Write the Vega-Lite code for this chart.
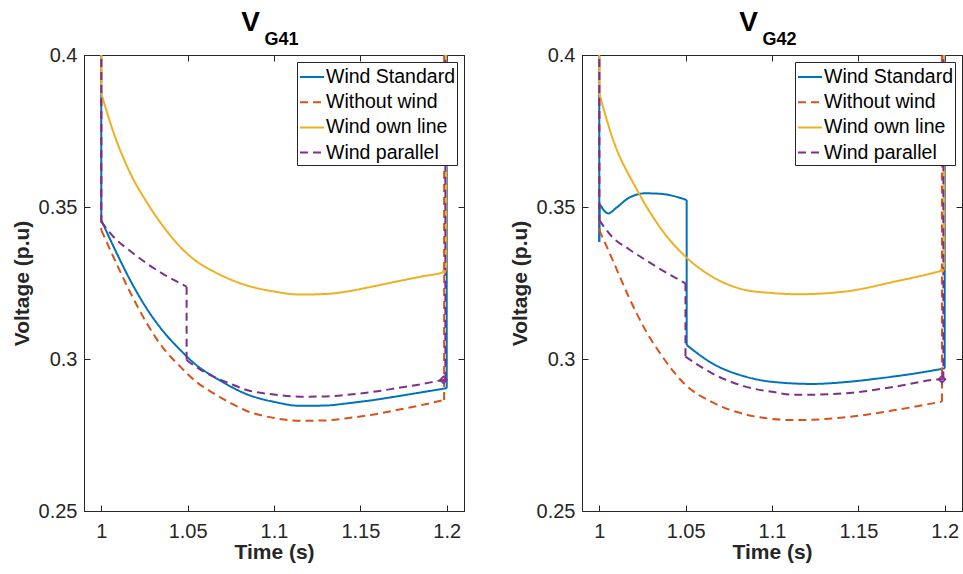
{
  "$schema": "https://vega.github.io/schema/vega-lite/v6.json",
  "padding": {"left": 10, "top": 8, "right": 0, "bottom": 0},
  "background": "white",
  "bounds": "flush",
  "spacing": 118,
  "resolve": {
    "scale": {"color": "independent", "strokeDash": "independent"},
    "legend": {"color": "independent", "strokeDash": "independent"}
  },
  "config": {
    "font": "Liberation Sans",
    "view": {"stroke": "#262626", "strokeWidth": 1},
    "axis": {
      "domainColor": "#262626", "tickColor": "#262626", "labelColor": "#262626", "titleColor": "#262626",
      "labelFont": "Liberation Sans", "titleFont": "Liberation Sans",
      "labelFontSize": 20, "titleFontSize": 21, "titleFontWeight": "bold",
      "grid": false, "tickSize": -6, "domainWidth": 1, "tickWidth": 1,
      "labelFlush": false, "labelOverlap": false
    },
    "axisX": {"labelPadding": 16, "titlePadding": 0},
    "axisY": {"labelPadding": 13, "titlePadding": 6},
    "legend": {
      "orient": "top-right", "offset": 7, "symbolType": "stroke", "symbolSize": 576, "symbolStrokeWidth": 2,
      "labelFontSize": 19.5, "labelFont": "Liberation Sans", "labelColor": "#000", "strokeColor": "#262626",
      "fillColor": "white", "padding": 2, "rowPadding": 2.2, "labelOffset": 1, "labelLimit": 400, "cornerRadius": 0
    },
    "title": {
      "font": "Liberation Sans", "fontSize": 28, "fontWeight": "bold", "color": "#000",
      "subtitleFont": "Liberation Sans", "subtitleFontSize": 18, "subtitleFontWeight": "bold", "subtitleColor": "#000",
      "subtitlePadding": -6, "anchor": "middle", "offset": -4
    }
  },
  "datasets": {
    "g41": [
      {"series":"Wind Standard","seg":0,"i":0,"x":1.0,"y":0.45},{"series":"Wind Standard","seg":0,"i":1,"x":1.0,"y":0.3457},
      {"series":"Wind Standard","seg":1,"i":2,"x":1.0,"y":0.3457},{"series":"Wind Standard","seg":1,"i":3,"x":1.0071,"y":0.337},{"series":"Wind Standard","seg":1,"i":4,"x":1.0165,"y":0.3262},{"series":"Wind Standard","seg":1,"i":5,"x":1.0264,"y":0.3165},{"series":"Wind Standard","seg":1,"i":6,"x":1.036,"y":0.309},{"series":"Wind Standard","seg":1,"i":7,"x":1.0457,"y":0.303},{"series":"Wind Standard","seg":1,"i":8,"x":1.055,"y":0.298},{"series":"Wind Standard","seg":1,"i":9,"x":1.065,"y":0.2942},{"series":"Wind Standard","seg":1,"i":10,"x":1.075,"y":0.2909},{"series":"Wind Standard","seg":1,"i":11,"x":1.0843,"y":0.2884},{"series":"Wind Standard","seg":1,"i":12,"x":1.1,"y":0.2859},{"series":"Wind Standard","seg":1,"i":13,"x":1.1152,"y":0.2846},{"series":"Wind Standard","seg":1,"i":14,"x":1.13,"y":0.2847},{"series":"Wind Standard","seg":1,"i":15,"x":1.1422,"y":0.2854},{"series":"Wind Standard","seg":1,"i":16,"x":1.155,"y":0.2863},{"series":"Wind Standard","seg":1,"i":17,"x":1.1711,"y":0.2877},{"series":"Wind Standard","seg":1,"i":18,"x":1.185,"y":0.289},{"series":"Wind Standard","seg":1,"i":19,"x":1.2,"y":0.2904},
      {"series":"Wind Standard","seg":2,"i":20,"x":1.2,"y":0.2904},{"series":"Wind Standard","seg":2,"i":21,"x":1.2,"y":0.45},
      {"series":"Without wind","seg":0,"i":0,"x":1.0,"y":0.45},{"series":"Without wind","seg":0,"i":1,"x":1.0,"y":0.3424},
      {"series":"Without wind","seg":1,"i":2,"x":1.0,"y":0.3424},{"series":"Without wind","seg":1,"i":3,"x":1.0071,"y":0.3335},{"series":"Without wind","seg":1,"i":4,"x":1.0165,"y":0.3222},{"series":"Without wind","seg":1,"i":5,"x":1.0264,"y":0.3117},{"series":"Without wind","seg":1,"i":6,"x":1.036,"y":0.3035},{"series":"Without wind","seg":1,"i":7,"x":1.0457,"y":0.2975},{"series":"Without wind","seg":1,"i":8,"x":1.055,"y":0.2925},{"series":"Without wind","seg":1,"i":9,"x":1.065,"y":0.2887},{"series":"Without wind","seg":1,"i":10,"x":1.075,"y":0.2855},{"series":"Without wind","seg":1,"i":11,"x":1.0843,"y":0.2829},{"series":"Without wind","seg":1,"i":12,"x":1.1,"y":0.2806},{"series":"Without wind","seg":1,"i":13,"x":1.1152,"y":0.2797},{"series":"Without wind","seg":1,"i":14,"x":1.13,"y":0.2798},{"series":"Without wind","seg":1,"i":15,"x":1.1422,"y":0.2805},{"series":"Without wind","seg":1,"i":16,"x":1.155,"y":0.2815},{"series":"Without wind","seg":1,"i":17,"x":1.1711,"y":0.2832},{"series":"Without wind","seg":1,"i":18,"x":1.185,"y":0.2848},{"series":"Without wind","seg":1,"i":19,"x":1.1985,"y":0.2865},
      {"series":"Without wind","seg":2,"i":20,"x":1.1985,"y":0.2865},{"series":"Without wind","seg":2,"i":21,"x":1.1985,"y":0.45},
      {"series":"Wind own line","seg":0,"i":0,"x":1.0,"y":0.45},{"series":"Wind own line","seg":0,"i":1,"x":1.0,"y":0.3874},
      {"series":"Wind own line","seg":1,"i":2,"x":1.0,"y":0.3874},{"series":"Wind own line","seg":1,"i":3,"x":1.0071,"y":0.3745},{"series":"Wind own line","seg":1,"i":4,"x":1.0168,"y":0.3611},{"series":"Wind own line","seg":1,"i":5,"x":1.0264,"y":0.3515},{"series":"Wind own line","seg":1,"i":6,"x":1.0359,"y":0.3436},{"series":"Wind own line","seg":1,"i":7,"x":1.0457,"y":0.3369},{"series":"Wind own line","seg":1,"i":8,"x":1.055,"y":0.3322},{"series":"Wind own line","seg":1,"i":9,"x":1.065,"y":0.3288},{"series":"Wind own line","seg":1,"i":10,"x":1.075,"y":0.3261},{"series":"Wind own line","seg":1,"i":11,"x":1.0843,"y":0.3242},{"series":"Wind own line","seg":1,"i":12,"x":1.1,"y":0.3222},{"series":"Wind own line","seg":1,"i":13,"x":1.1152,"y":0.3212},{"series":"Wind own line","seg":1,"i":14,"x":1.13,"y":0.3214},{"series":"Wind own line","seg":1,"i":15,"x":1.1422,"y":0.3222},{"series":"Wind own line","seg":1,"i":16,"x":1.155,"y":0.3236},{"series":"Wind own line","seg":1,"i":17,"x":1.1711,"y":0.3255},{"series":"Wind own line","seg":1,"i":18,"x":1.185,"y":0.3271},{"series":"Wind own line","seg":1,"i":19,"x":1.1984,"y":0.3287},{"series":"Wind own line","seg":1,"i":20,"x":1.1996,"y":0.329},
      {"series":"Wind own line","seg":2,"i":21,"x":1.1996,"y":0.329},{"series":"Wind own line","seg":2,"i":22,"x":1.1996,"y":0.45},
      {"series":"Wind parallel","seg":0,"i":0,"x":1.0,"y":0.45},{"series":"Wind parallel","seg":0,"i":1,"x":1.0,"y":0.3452},
      {"series":"Wind parallel","seg":1,"i":2,"x":1.0,"y":0.3452},{"series":"Wind parallel","seg":1,"i":3,"x":1.007,"y":0.3402},{"series":"Wind parallel","seg":1,"i":4,"x":1.0164,"y":0.3357},{"series":"Wind parallel","seg":1,"i":5,"x":1.0262,"y":0.3315},{"series":"Wind parallel","seg":1,"i":6,"x":1.0357,"y":0.328},{"series":"Wind parallel","seg":1,"i":7,"x":1.0457,"y":0.3249},{"series":"Wind parallel","seg":1,"i":8,"x":1.0494,"y":0.3238},
      {"series":"Wind parallel","seg":2,"i":9,"x":1.0494,"y":0.3238},{"series":"Wind parallel","seg":2,"i":10,"x":1.0494,"y":0.2997},
      {"series":"Wind parallel","seg":3,"i":11,"x":1.0494,"y":0.2997},{"series":"Wind parallel","seg":3,"i":12,"x":1.0533,"y":0.298},{"series":"Wind parallel","seg":3,"i":13,"x":1.065,"y":0.2942},{"series":"Wind parallel","seg":3,"i":14,"x":1.075,"y":0.2918},{"series":"Wind parallel","seg":3,"i":15,"x":1.0843,"y":0.2898},{"series":"Wind parallel","seg":3,"i":16,"x":1.1,"y":0.2883},{"series":"Wind parallel","seg":3,"i":17,"x":1.1152,"y":0.2876},{"series":"Wind parallel","seg":3,"i":18,"x":1.13,"y":0.2877},{"series":"Wind parallel","seg":3,"i":19,"x":1.1422,"y":0.2882},{"series":"Wind parallel","seg":3,"i":20,"x":1.155,"y":0.289},{"series":"Wind parallel","seg":3,"i":21,"x":1.1711,"y":0.2904},{"series":"Wind parallel","seg":3,"i":22,"x":1.185,"y":0.2917},{"series":"Wind parallel","seg":3,"i":23,"x":1.1981,"y":0.2931},{"series":"Wind parallel","seg":3,"i":24,"x":1.1992,"y":0.2932},
      {"series":"Wind parallel","seg":4,"i":25,"x":1.1992,"y":0.2932},{"series":"Wind parallel","seg":4,"i":26,"x":1.1992,"y":0.45}
    ],
    "g42": [
      {"series":"Wind Standard","seg":0,"i":0,"x":1.0,"y":0.45},{"series":"Wind Standard","seg":0,"i":1,"x":1.0,"y":0.3386},
      {"series":"Wind Standard","seg":1,"i":2,"x":1.0,"y":0.3386},{"series":"Wind Standard","seg":1,"i":3,"x":1.0003,"y":0.3507},{"series":"Wind Standard","seg":1,"i":4,"x":1.0025,"y":0.349},{"series":"Wind Standard","seg":1,"i":5,"x":1.0052,"y":0.3479},{"series":"Wind Standard","seg":1,"i":6,"x":1.01,"y":0.3498},{"series":"Wind Standard","seg":1,"i":7,"x":1.0171,"y":0.353},{"series":"Wind Standard","seg":1,"i":8,"x":1.0267,"y":0.3545},{"series":"Wind Standard","seg":1,"i":9,"x":1.0363,"y":0.3543},{"series":"Wind Standard","seg":1,"i":10,"x":1.045,"y":0.3533},{"series":"Wind Standard","seg":1,"i":11,"x":1.0506,"y":0.3523},
      {"series":"Wind Standard","seg":2,"i":12,"x":1.0506,"y":0.3523},{"series":"Wind Standard","seg":2,"i":13,"x":1.0506,"y":0.3046},
      {"series":"Wind Standard","seg":3,"i":14,"x":1.0506,"y":0.3046},{"series":"Wind Standard","seg":3,"i":15,"x":1.0653,"y":0.2986},{"series":"Wind Standard","seg":3,"i":16,"x":1.0846,"y":0.2942},{"series":"Wind Standard","seg":3,"i":17,"x":1.1,"y":0.2925},{"series":"Wind Standard","seg":3,"i":18,"x":1.1231,"y":0.2918},{"series":"Wind Standard","seg":3,"i":19,"x":1.1425,"y":0.2924},{"series":"Wind Standard","seg":3,"i":20,"x":1.1617,"y":0.2936},{"series":"Wind Standard","seg":3,"i":21,"x":1.18,"y":0.295},{"series":"Wind Standard","seg":3,"i":22,"x":1.2,"y":0.2969},
      {"series":"Wind Standard","seg":4,"i":23,"x":1.2,"y":0.2969},{"series":"Wind Standard","seg":4,"i":24,"x":1.2,"y":0.45},
      {"series":"Without wind","seg":0,"i":0,"x":1.0,"y":0.45},{"series":"Without wind","seg":0,"i":1,"x":1.0,"y":0.3424},
      {"series":"Without wind","seg":1,"i":2,"x":1.0,"y":0.3424},{"series":"Without wind","seg":1,"i":3,"x":1.0074,"y":0.333},{"series":"Without wind","seg":1,"i":4,"x":1.017,"y":0.3205},{"series":"Without wind","seg":1,"i":5,"x":1.0267,"y":0.3095},{"series":"Without wind","seg":1,"i":6,"x":1.0363,"y":0.301},{"series":"Without wind","seg":1,"i":7,"x":1.0499,"y":0.2915},{"series":"Without wind","seg":1,"i":8,"x":1.0653,"y":0.2858},{"series":"Without wind","seg":1,"i":9,"x":1.0846,"y":0.2818},{"series":"Without wind","seg":1,"i":10,"x":1.1,"y":0.2803},{"series":"Without wind","seg":1,"i":11,"x":1.1134,"y":0.2799},{"series":"Without wind","seg":1,"i":12,"x":1.1424,"y":0.2808},{"series":"Without wind","seg":1,"i":13,"x":1.1714,"y":0.2832},{"series":"Without wind","seg":1,"i":14,"x":1.1984,"y":0.286},
      {"series":"Without wind","seg":2,"i":15,"x":1.1984,"y":0.286},{"series":"Without wind","seg":2,"i":16,"x":1.1984,"y":0.45},
      {"series":"Wind own line","seg":0,"i":0,"x":1.0,"y":0.45},{"series":"Wind own line","seg":0,"i":1,"x":1.0,"y":0.3874},
      {"series":"Wind own line","seg":1,"i":2,"x":1.0,"y":0.3874},{"series":"Wind own line","seg":1,"i":3,"x":1.0074,"y":0.3731},{"series":"Wind own line","seg":1,"i":4,"x":1.0219,"y":0.3556},{"series":"Wind own line","seg":1,"i":5,"x":1.0363,"y":0.3424},{"series":"Wind own line","seg":1,"i":6,"x":1.0499,"y":0.3337},{"series":"Wind own line","seg":1,"i":7,"x":1.0653,"y":0.3271},{"series":"Wind own line","seg":1,"i":8,"x":1.0846,"y":0.3227},{"series":"Wind own line","seg":1,"i":9,"x":1.1,"y":0.3217},{"series":"Wind own line","seg":1,"i":10,"x":1.1152,"y":0.3213},{"series":"Wind own line","seg":1,"i":11,"x":1.1424,"y":0.3222},{"series":"Wind own line","seg":1,"i":12,"x":1.1714,"y":0.3255},{"series":"Wind own line","seg":1,"i":13,"x":1.1984,"y":0.3291},{"series":"Wind own line","seg":1,"i":14,"x":1.1996,"y":0.3293},
      {"series":"Wind own line","seg":2,"i":15,"x":1.1996,"y":0.3293},{"series":"Wind own line","seg":2,"i":16,"x":1.1996,"y":0.45},
      {"series":"Wind parallel","seg":0,"i":0,"x":1.0,"y":0.45},{"series":"Wind parallel","seg":0,"i":1,"x":1.0,"y":0.3457},
      {"series":"Wind parallel","seg":1,"i":2,"x":1.0,"y":0.3457},{"series":"Wind parallel","seg":1,"i":3,"x":1.0074,"y":0.3402},{"series":"Wind parallel","seg":1,"i":4,"x":1.017,"y":0.3362},{"series":"Wind parallel","seg":1,"i":5,"x":1.0267,"y":0.3326},{"series":"Wind parallel","seg":1,"i":6,"x":1.0385,"y":0.3285},{"series":"Wind parallel","seg":1,"i":7,"x":1.0499,"y":0.3249},
      {"series":"Wind parallel","seg":2,"i":8,"x":1.0499,"y":0.3249},{"series":"Wind parallel","seg":2,"i":9,"x":1.0499,"y":0.3008},
      {"series":"Wind parallel","seg":3,"i":10,"x":1.0499,"y":0.3008},{"series":"Wind parallel","seg":3,"i":11,"x":1.0653,"y":0.2953},{"series":"Wind parallel","seg":3,"i":12,"x":1.0846,"y":0.2909},{"series":"Wind parallel","seg":3,"i":13,"x":1.1,"y":0.2892},{"series":"Wind parallel","seg":3,"i":14,"x":1.1134,"y":0.2882},{"series":"Wind parallel","seg":3,"i":15,"x":1.1424,"y":0.2887},{"series":"Wind parallel","seg":3,"i":16,"x":1.1714,"y":0.2909},{"series":"Wind parallel","seg":3,"i":17,"x":1.1984,"y":0.2933},{"series":"Wind parallel","seg":3,"i":18,"x":1.1992,"y":0.2933},
      {"series":"Wind parallel","seg":4,"i":19,"x":1.1992,"y":0.2933},{"series":"Wind parallel","seg":4,"i":20,"x":1.1992,"y":0.45}
    ],
    "m41": [
      {"series":"Wind own line","x":1.1984,"y":0.3287},
      {"series":"Wind parallel","x":1.1981,"y":0.2931}
    ],
    "m42": [
      {"series":"Wind own line","x":1.1984,"y":0.3291},
      {"series":"Wind parallel","x":1.1984,"y":0.2933}
    ]
  },
  "hconcat": [
    {
      "width": 380, "height": 456,
      "title": {"text": "V\u00a0\u00a0\u00a0\u00a0\u00a0\u00a0\u200b", "subtitle": "\u200b\u00a0\u00a0\u00a0G41"},
      "layer": [
        {
          "data": {"name": "g41"},
          "mark": {"type": "line", "clip": true, "strokeWidth": 2, "interpolate": "monotone"},
          "encoding": {
            "x": {"field": "x", "type": "quantitative", "scale": {"domain": [0.99, 1.21], "nice": false, "zero": false},
                  "axis": {"orient": "bottom", "title": "Time (s)", "values": [1, 1.05, 1.1, 1.15, 1.2], "format": "~g"}},
            "y": {"field": "y", "type": "quantitative", "scale": {"domain": [0.25, 0.4], "nice": false, "zero": false},
                  "axis": {"orient": "left", "title": "Voltage (p.u)", "values": [0.25, 0.3, 0.35, 0.4], "format": "~g"}},
            "color": {"field": "series", "type": "nominal",
                      "scale": {"domain": ["Wind Standard", "Without wind", "Wind own line", "Wind parallel"], "range": ["#0072BD", "#D95319", "#EDB120", "#7E2F8E"]},
                      "legend": {"title": null, "orient": "top-right", "offset": 7}},
            "strokeDash": {"field": "series", "type": "nominal",
                      "scale": {"domain": ["Wind Standard", "Without wind", "Wind own line", "Wind parallel"], "range": [[1, 0], [8, 5], [1, 0], [8, 5]]},
                      "legend": {"title": null, "orient": "top-right", "offset": 7}},
            "detail": {"field": "seg", "type": "nominal"},
            "order": {"field": "i", "type": "quantitative"}
          }
        },
        {
          "data": {"name": "m41"},
          "transform": [{"filter": "datum.series === 'Wind own line'"}],
          "mark": {"type": "point", "shape": "circle", "filled": true, "size": 18, "color": "#EDB120", "opacity": 1, "clip": true},
          "encoding": {
            "x": {"field": "x", "type": "quantitative", "axis": {"orient": "top", "labels": false, "title": null, "values": [1, 1.05, 1.1, 1.15, 1.2]}},
            "y": {"field": "y", "type": "quantitative", "axis": {"orient": "right", "labels": false, "title": null, "values": [0.25, 0.3, 0.35, 0.4]}}
          }
        },
        {
          "data": {"name": "m41"},
          "transform": [{"filter": "datum.series === 'Wind parallel'"}],
          "mark": {"type": "point", "shape": "diamond", "filled": false, "size": 45, "strokeWidth": 1.8, "color": "#7E2F8E", "opacity": 1, "clip": true},
          "encoding": {
            "x": {"field": "x", "type": "quantitative", "axis": null},
            "y": {"field": "y", "type": "quantitative", "axis": null}
          }
        }
      ],
      "resolve": {"axis": {"x": "independent", "y": "independent"}}
    },
    {
      "width": 380, "height": 456,
      "title": {"text": "V\u00a0\u00a0\u00a0\u00a0\u00a0\u00a0\u200b", "subtitle": "\u200b\u00a0\u00a0\u00a0G42"},
      "layer": [
        {
          "data": {"name": "g42"},
          "mark": {"type": "line", "clip": true, "strokeWidth": 2, "interpolate": "monotone"},
          "encoding": {
            "x": {"field": "x", "type": "quantitative", "scale": {"domain": [0.99, 1.21], "nice": false, "zero": false},
                  "axis": {"orient": "bottom", "title": "Time (s)", "values": [1, 1.05, 1.1, 1.15, 1.2], "format": "~g"}},
            "y": {"field": "y", "type": "quantitative", "scale": {"domain": [0.25, 0.4], "nice": false, "zero": false},
                  "axis": {"orient": "left", "title": "Voltage (p.u)", "values": [0.25, 0.3, 0.35, 0.4], "format": "~g"}},
            "color": {"field": "series", "type": "nominal",
                      "scale": {"domain": ["Wind Standard", "Without wind", "Wind own line", "Wind parallel"], "range": ["#0072BD", "#D95319", "#EDB120", "#7E2F8E"]},
                      "legend": {"title": null, "orient": "top-right", "offset": 7}},
            "strokeDash": {"field": "series", "type": "nominal",
                      "scale": {"domain": ["Wind Standard", "Without wind", "Wind own line", "Wind parallel"], "range": [[1, 0], [8, 5], [1, 0], [8, 5]]},
                      "legend": {"title": null, "orient": "top-right", "offset": 7}},
            "detail": {"field": "seg", "type": "nominal"},
            "order": {"field": "i", "type": "quantitative"}
          }
        },
        {
          "data": {"name": "m42"},
          "transform": [{"filter": "datum.series === 'Wind own line'"}],
          "mark": {"type": "point", "shape": "circle", "filled": true, "size": 18, "color": "#EDB120", "opacity": 1, "clip": true},
          "encoding": {
            "x": {"field": "x", "type": "quantitative", "axis": {"orient": "top", "labels": false, "title": null, "values": [1, 1.05, 1.1, 1.15, 1.2]}},
            "y": {"field": "y", "type": "quantitative", "axis": {"orient": "right", "labels": false, "title": null, "values": [0.25, 0.3, 0.35, 0.4]}}
          }
        },
        {
          "data": {"name": "m42"},
          "transform": [{"filter": "datum.series === 'Wind parallel'"}],
          "mark": {"type": "point", "shape": "diamond", "filled": false, "size": 45, "strokeWidth": 1.8, "color": "#7E2F8E", "opacity": 1, "clip": true},
          "encoding": {
            "x": {"field": "x", "type": "quantitative", "axis": null},
            "y": {"field": "y", "type": "quantitative", "axis": null}
          }
        }
      ],
      "resolve": {"axis": {"x": "independent", "y": "independent"}}
    }
  ]
}
